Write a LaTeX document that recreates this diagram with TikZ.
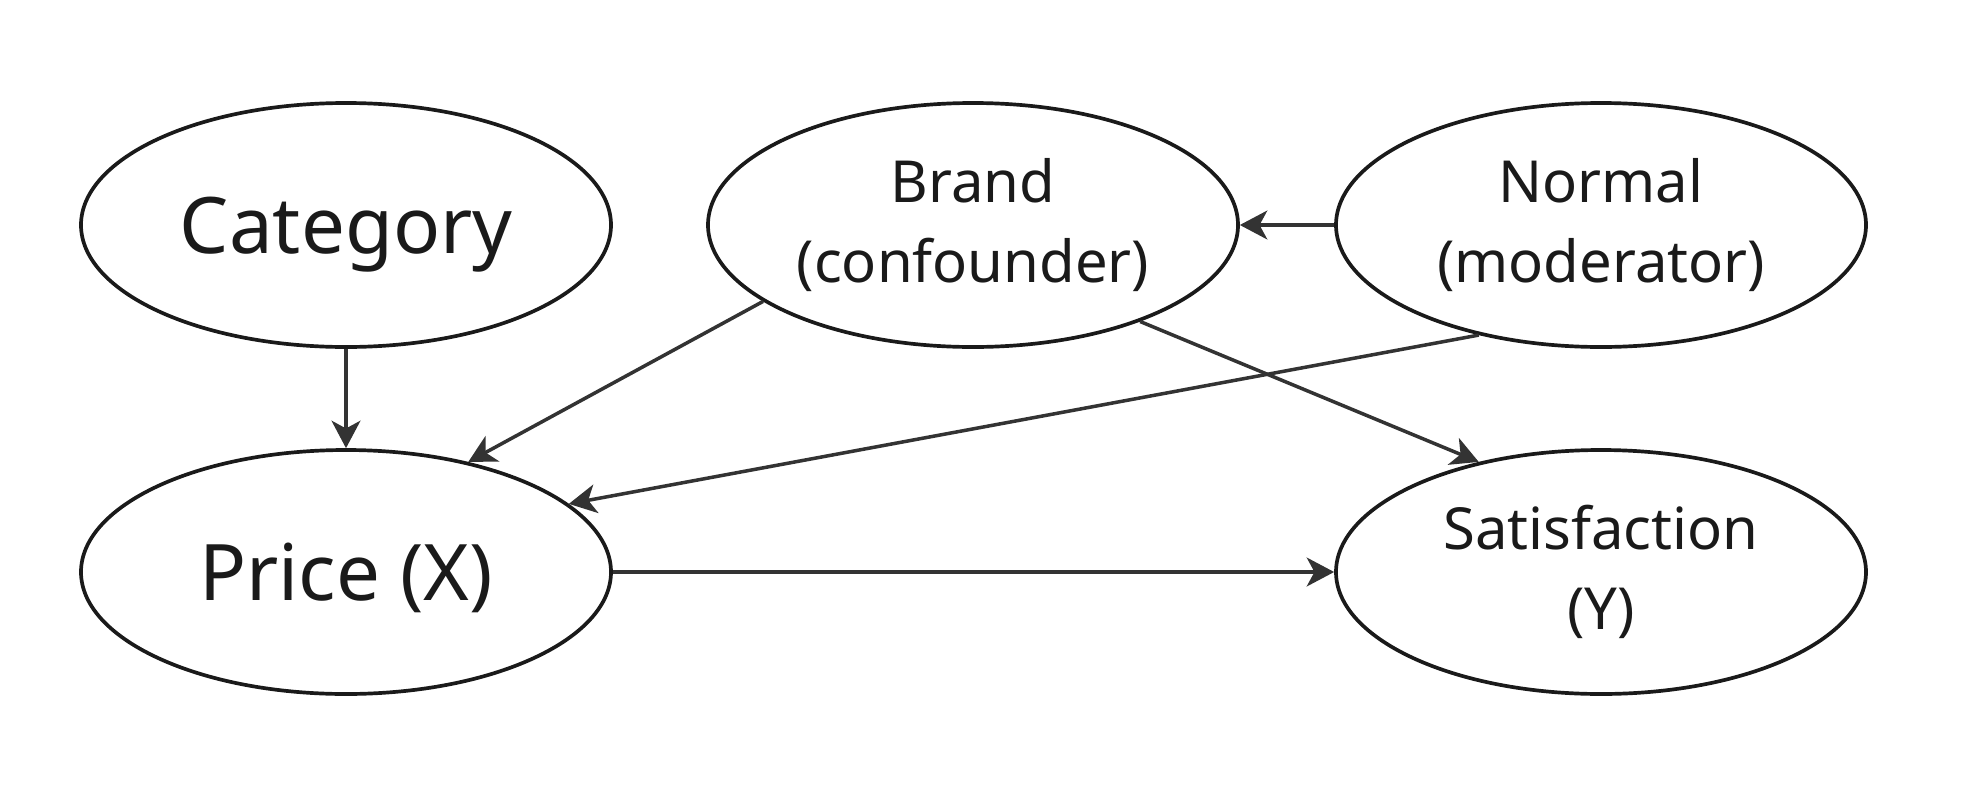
\documentclass[tikz,border=0pt]{standalone}
\usepackage{fontspec}
\setmainfont{Noto Sans}
\usetikzlibrary{shapes.geometric,arrows.meta}
\definecolor{edgegray}{HTML}{333333}
\definecolor{inkblack}{HTML}{1A1A1A}

\begin{document}
\begin{tikzpicture}[
    var/.style={ellipse, draw=inkblack, line width=1.05pt, minimum width=5.3cm, minimum height=2.44cm, inner sep=0pt, text=inkblack, align=center},
    bigvar/.style={var, font=\fontsize{22.2}{27}\selectfont, text height=0.56cm, text depth=0pt},
    smallvar/.style={var, font=\fontsize{16.5}{22.8}\selectfont},
    edge/.style={draw=edgegray, line width=1pt, -{Stealth[length=7.8pt, width=8.2pt, inset=2.2pt]}}]
      \useasboundingbox (0,0) rectangle (19.77,7.90);
      \node[bigvar] (category) at (3.46, 5.65) {Category};
      \node[smallvar] (brand) at (9.73, 5.65) {Brand\\(confounder)};
      \node[smallvar] (normal) at (16.01, 5.65) {Normal\\(moderator)};
      \node[bigvar] (price) at (3.46, 2.18) {Price (X)};
      \node[smallvar] (satisfaction) at (16.01, 2.18) {Satisfaction\\(Y)};
      \draw[edge] (category) -- (price);
      \draw[edge] (brand.200) -- (price.42);
      \draw[edge] (brand.330) -- (satisfaction.138);
      \draw[edge] (normal) -- (brand);
      \draw[edge] (normal.222) -- (price.17);
      \draw[edge] (price) -- (satisfaction);
    \end{tikzpicture}
\end{document}
